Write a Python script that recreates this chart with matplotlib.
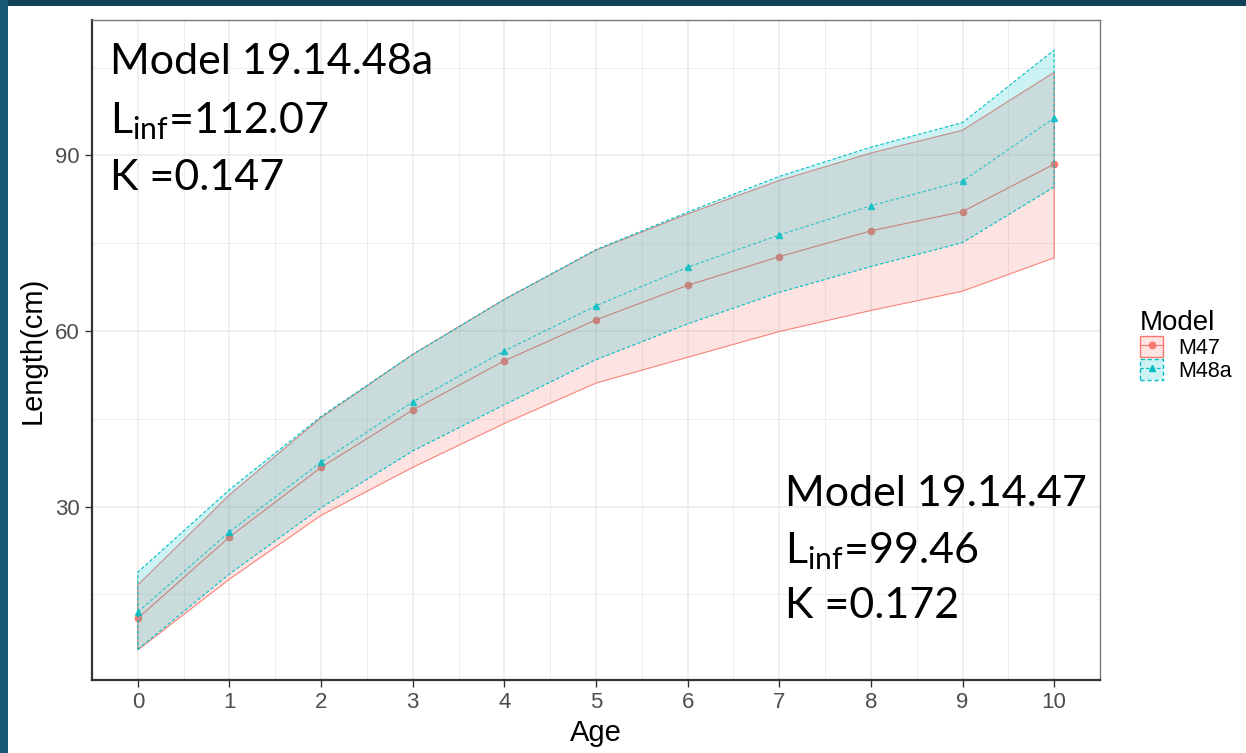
import matplotlib
matplotlib.use("Agg")
import matplotlib.pyplot as plt
from matplotlib.patches import Patch, Rectangle
from matplotlib.lines import Line2D
from matplotlib.ticker import MultipleLocator

plt.rcParams['font.family'] = ['Liberation Sans', 'DejaVu Sans']
plt.rcParams['mathtext.fontset'] = 'custom'
plt.rcParams['mathtext.rm'] = 'Lato'

ages = [0, 1, 2, 3, 4, 5, 6, 7, 8, 9, 10]

# model 19.14.47
m47_mean = [10.9, 24.8, 36.7, 46.5, 54.9, 61.9, 67.8, 72.7, 77.1, 80.4, 88.5]
m47_low = [5.5, 17.6, 28.5, 36.7, 44.2, 51.1, 55.5, 59.9, 63.5, 66.8, 72.5]
m47_high = [16.6, 32.0, 45.2, 56.0, 65.4, 73.8, 80.0, 85.7, 90.4, 94.3, 104.2]

# model 19.14.48a
m48_mean = [12.0, 25.7, 37.6, 47.9, 56.6, 64.3, 70.9, 76.4, 81.4, 85.6, 96.4]
m48_low = [5.6, 18.5, 29.8, 39.5, 47.4, 55.1, 61.2, 66.6, 71.0, 75.1, 84.6]
m48_high = [18.8, 32.9, 45.4, 56.0, 65.4, 73.9, 80.3, 86.4, 91.4, 95.6, 108.0]

model_labels = ["M47", "M48a"]
red = "#F8766D"
cyan = "#00BFC4"

fig = plt.figure(figsize=(12.46, 7.53), dpi=100, facecolor="white")
# slide background strips
fig.patches.append(Rectangle((0, 1 - 6 / 753), 1, 6 / 753, transform=fig.transFigure,
                             facecolor="#12425a", edgecolor="none", zorder=0))
fig.patches.append(Rectangle((0, 0), 8 / 1246, 1, transform=fig.transFigure,
                             facecolor="#175a78", edgecolor="none", zorder=0))

ax = fig.add_axes([92 / 1246, 1 - 680 / 753, 1008 / 1246, 660 / 753])

# ribbons with outlines
ax.fill_between(ages, m47_low, m47_high, facecolor=red, alpha=0.2, edgecolor="none", zorder=2)
ax.fill(ages + ages[::-1], m47_low + m47_high[::-1], facecolor="none",
        edgecolor=red, lw=0.8, alpha=0.9, zorder=2)
ax.plot(ages, m47_mean, color=red, lw=0.8, marker="o", ms=4.5, zorder=3)

ax.fill_between(ages, m48_low, m48_high, facecolor=cyan, alpha=0.2, edgecolor="none", zorder=4)
ax.fill(ages + ages[::-1], m48_low + m48_high[::-1], facecolor="none",
        edgecolor=cyan, lw=0.8, linestyle=(0, (3, 2)), zorder=4)
ax.plot(ages, m48_mean, color=cyan, lw=0.8, linestyle=(0, (3, 2)), marker="^",
        ms=4.5, alpha=0.8, zorder=5)

lo = min(m47_low + m48_low)
hi = max(m47_high + m48_high)
pad = (hi - lo) * 0.05
ax.set_ylim(lo - pad, hi + pad)
ax.set_xlim(-0.5, 10.5)

ax.set_xticks(ages)
ax.yaxis.set_major_locator(MultipleLocator(30))
ax.yaxis.set_minor_locator(MultipleLocator(15))
ax.xaxis.set_minor_locator(MultipleLocator(0.5))
ax.grid(which="major", color="#ebebeb", lw=1.1, zorder=0)
ax.grid(which="minor", color="#ebebeb", lw=0.6, zorder=0)
ax.set_axisbelow(True)
ax.tick_params(which="minor", length=0)
ax.tick_params(which="major", length=5, width=1, color="#333333",
               labelsize=16, labelcolor="#4d4d4d", pad=4)

for s in ax.spines.values():
    s.set_color("#777777")
    s.set_linewidth(1)
for s in ("left", "bottom"):
    ax.spines[s].set_color("#333333")
    ax.spines[s].set_linewidth(1.6)

ax.set_xlabel("Age", fontsize=21, labelpad=4)
ax.set_ylabel("Length(cm)", fontsize=21, labelpad=6)

# model annotations
note_kw = dict(transform=fig.transFigure, fontsize=31, family="Lato", color="black", va="baseline")
fig.text(110 / 1246, 1 - 74 / 753, "Model 19.14.48a", **note_kw)
fig.text(110 / 1246, 1 - 133 / 753, r"L$_{\mathrm{inf}}$=112.07", **note_kw)
fig.text(110 / 1246, 1 - 190 / 753, "K =0.147", **note_kw)
fig.text(785 / 1246, 1 - 506 / 753, "Model 19.14.47", **note_kw)
fig.text(785 / 1246, 1 - 563 / 753, r"L$_{\mathrm{inf}}$=99.46", **note_kw)
fig.text(785 / 1246, 1 - 618 / 753, "K =0.172", **note_kw)

handles = [
    (Patch(facecolor=red, alpha=0.2, edgecolor="none"),
     Patch(facecolor="none", edgecolor=red, lw=1),
     Line2D([], [], color=red, lw=0.8, marker="o", ms=4.5)),
    (Patch(facecolor=cyan, alpha=0.2, edgecolor="none"),
     Patch(facecolor="none", edgecolor=cyan, lw=1, linestyle=(0, (3, 2))),
     Line2D([], [], color=cyan, lw=0.8, linestyle=(0, (3, 2)), marker="^", ms=4.5)),
]
leg = fig.legend(handles, model_labels, title="Model", loc="upper left",
                 bbox_to_anchor=(1140 / 1246, 1 - 310 / 753), frameon=False,
                 fontsize=15.5, title_fontsize=20, handlelength=1.07, handleheight=1.15,
                 handletextpad=0.7, labelspacing=0.0, borderaxespad=0, borderpad=0)
leg._legend_box.align = "left"

fig.savefig("out.png", dpi=100, facecolor=fig.get_facecolor())
